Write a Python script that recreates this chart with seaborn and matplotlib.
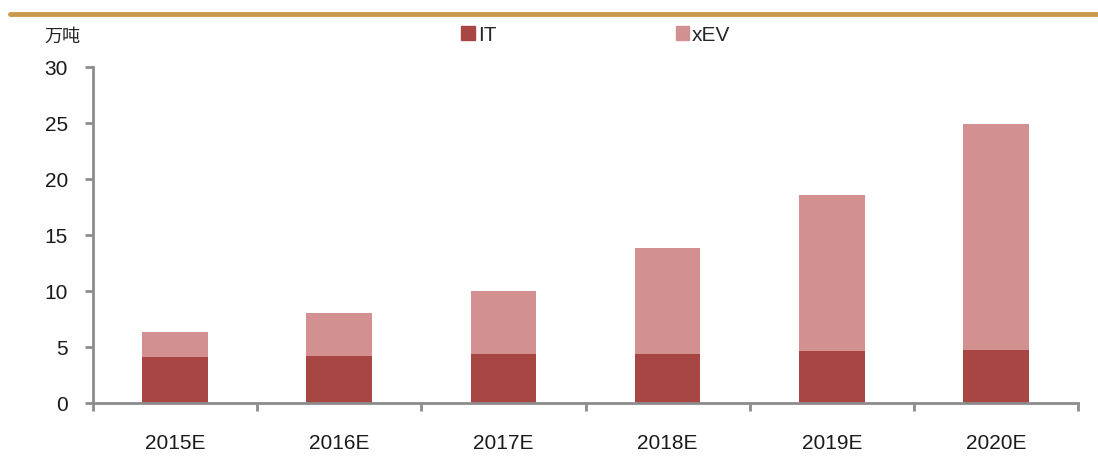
import matplotlib
matplotlib.use("Agg")
import matplotlib.pyplot as plt
import matplotlib.lines as mlines
import matplotlib.patches as mpatches
import pandas as pd
import seaborn as sns

# data (万吨)
years = ['2015E', '2016E', '2017E', '2018E', '2019E', '2020E']
it_vals = [4.1, 4.25, 4.4, 4.4, 4.65, 4.8]
xev_vals = [2.3, 3.85, 5.6, 9.5, 13.95, 20.1]

it_color = '#A84644'
xev_color = '#D29190'
axis_color = '#8C8C8C'

df = pd.DataFrame({'year': years, 'IT': it_vals, 'xEV': xev_vals})
df['total'] = df['IT'] + df['xEV']

sns.set_style('white')
plt.rcParams['font.family'] = ['Liberation Sans', 'DejaVu Sans']

fig = plt.figure(figsize=(10.98, 4.69), dpi=100)
ax = fig.add_axes([0.0847, 0.14, 0.8971, 0.717])

# stacked: total in xEV colour, IT drawn over the bottom part
sns.barplot(data=df, x='year', y='total', color=xev_color, width=0.4,
            saturation=1, ax=ax, edgecolor='none')
sns.barplot(data=df, x='year', y='IT', color=it_color, width=0.4,
            saturation=1, ax=ax, edgecolor='none')

ax.set_xlim(-0.5, len(years) - 0.5)
ax.set_ylim(0, 30)
ax.set_yticks(range(0, 31, 5))
ax.set_xlabel('')
ax.set_ylabel('')

for side in ['top', 'right']:
    ax.spines[side].set_visible(False)
for side in ['left', 'bottom']:
    ax.spines[side].set_color(axis_color)
    ax.spines[side].set_linewidth(2)

ax.tick_params(axis='y', length=6, width=2, color=axis_color, direction='out',
               labelsize=15, pad=12, left=True)
ax.tick_params(axis='x', which='major', length=0, labelsize=15, pad=22)
ax.set_xticks([i - 0.5 for i in range(len(years) + 1)], minor=True)
ax.tick_params(axis='x', which='minor', length=6, width=2, color=axis_color,
               direction='out', bottom=True)
for lab in ax.get_yticklabels() + ax.get_xticklabels():
    lab.set_color('#1a1a1a')

# unit label
fig.text(0.040, 0.922, '万吨', fontsize=13, ha='left', va='center',
         family=['Noto Sans CJK SC', 'DejaVu Sans'], color='#222222')

# legend
handles = [mpatches.Patch(color=it_color, label='IT'),
           mpatches.Patch(color=xev_color, label='xEV')]
fig.legend(handles=handles, loc='center left', bbox_to_anchor=(0.403, 0.925),
           ncol=2, frameon=False, fontsize=15, handlelength=0.65,
           handleheight=0.65, handletextpad=0.15, columnspacing=8.6)

# gold rule at the top
fig.add_artist(mlines.Line2D([0.009, 1.0], [1 - 14 / 469, 1 - 14 / 469],
                             color='#C99A4E', linewidth=3.5,
                             transform=fig.transFigure))

fig.savefig('out.png', dpi=100)
